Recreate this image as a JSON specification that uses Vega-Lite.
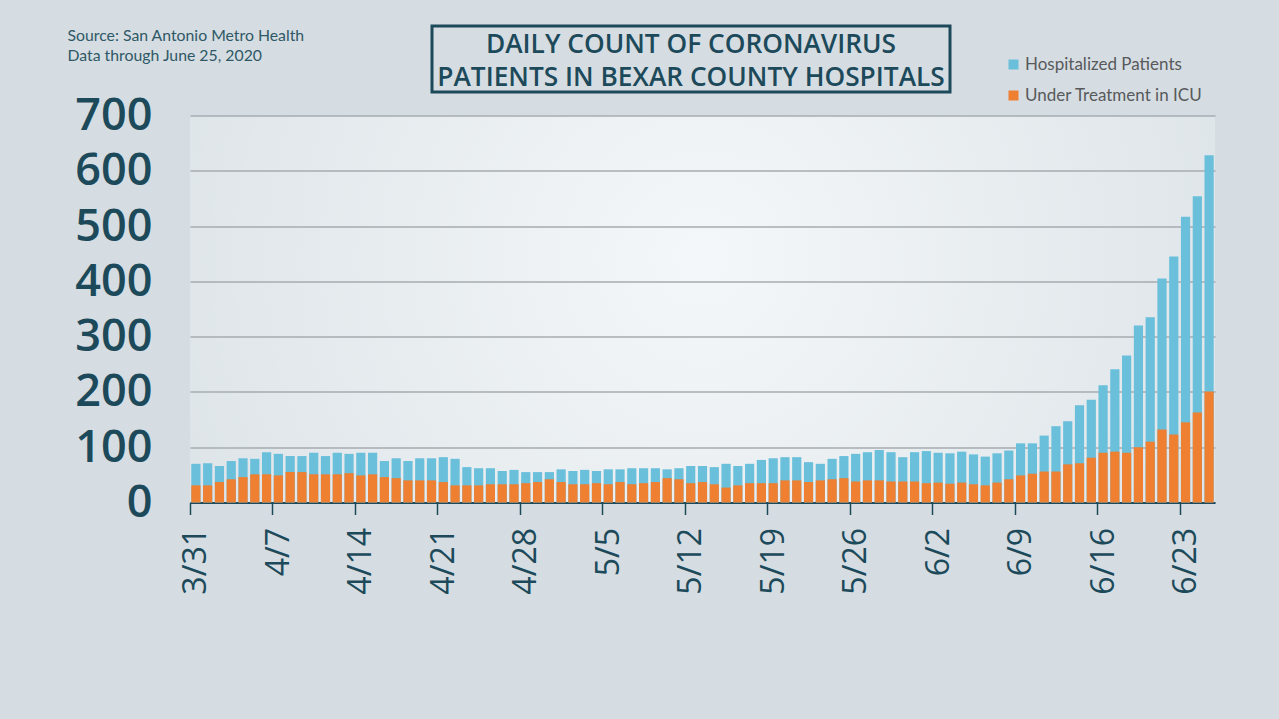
{
  "$schema": "https://vega.github.io/schema/vega-lite/v6.json",
  "background": "#d5dde2",
  "padding": {"left": 67, "top": 24, "right": 64, "bottom": 126},
  "bounds": "flush",
  "spacing": 89.5,
  "config": {
    "view": {"stroke": null},
    "concat": {"spacing": 0}
  },
  "vconcat": [
    {
      "bounds": "flush",
      "spacing": 0,
      "hconcat": [
        {
          "width": 241.5,
          "height": 66,
          "data": {"values": []},
          "mark": "rect"
        },
        {
          "width": 518,
          "height": 66,
          "view": {"stroke": "#1d4a5a", "strokeWidth": 3, "fill": null},
          "data": {
            "values": [
              {"line": 1, "text": "DAILY COUNT OF CORONAVIRUS"},
              {"line": 2, "text": "PATIENTS IN BEXAR COUNTY HOSPITALS"}
            ]
          },
          "mark": {
            "type": "text",
            "font": "Open Sans",
            "fontSize": 26.3,
            "fontWeight": 600,
            "color": "#1d4a5a",
            "align": "center",
            "baseline": "middle",
            "dy": 2
          },
          "encoding": {
            "y": {"field": "line", "type": "ordinal", "axis": null},
            "text": {"field": "text"}
          }
        }
      ]
    },
    {
      "width": 1025,
      "height": 387,
      "view": {
        "stroke": null,
        "fill": {
          "gradient": "radial",
          "x1": 0.5, "y1": 0.45, "r1": 0,
          "x2": 0.5, "y2": 0.45, "r2": 0.75,
          "stops": [
            {"offset": 0, "color": "#f4f7f9"},
            {"offset": 1, "color": "#d5dde2"}
          ]
        }
      },
      "data": {
        "values": [
          {"date": "3/31", "hosp": 70, "icu": 31},
          {"date": "4/1", "hosp": 71, "icu": 31},
          {"date": "4/2", "hosp": 66, "icu": 37},
          {"date": "4/3", "hosp": 75, "icu": 42},
          {"date": "4/4", "hosp": 80, "icu": 46},
          {"date": "4/5", "hosp": 79, "icu": 51},
          {"date": "4/6", "hosp": 91, "icu": 51},
          {"date": "4/7", "hosp": 88, "icu": 49},
          {"date": "4/8", "hosp": 84, "icu": 55},
          {"date": "4/9", "hosp": 84, "icu": 55},
          {"date": "4/10", "hosp": 90, "icu": 51},
          {"date": "4/11", "hosp": 84, "icu": 51},
          {"date": "4/12", "hosp": 90, "icu": 51},
          {"date": "4/13", "hosp": 88, "icu": 53},
          {"date": "4/14", "hosp": 90, "icu": 49},
          {"date": "4/15", "hosp": 90, "icu": 51},
          {"date": "4/16", "hosp": 75, "icu": 46},
          {"date": "4/17", "hosp": 80, "icu": 44},
          {"date": "4/18", "hosp": 75, "icu": 40},
          {"date": "4/19", "hosp": 80, "icu": 40},
          {"date": "4/20", "hosp": 80, "icu": 40},
          {"date": "4/21", "hosp": 82, "icu": 37},
          {"date": "4/22", "hosp": 79, "icu": 31},
          {"date": "4/23", "hosp": 64, "icu": 31},
          {"date": "4/24", "hosp": 62, "icu": 31},
          {"date": "4/25", "hosp": 62, "icu": 33},
          {"date": "4/26", "hosp": 57, "icu": 33},
          {"date": "4/27", "hosp": 59, "icu": 33},
          {"date": "4/28", "hosp": 55, "icu": 35},
          {"date": "4/29", "hosp": 55, "icu": 37},
          {"date": "4/30", "hosp": 55, "icu": 42},
          {"date": "5/1", "hosp": 60, "icu": 37},
          {"date": "5/2", "hosp": 57, "icu": 33},
          {"date": "5/3", "hosp": 59, "icu": 33},
          {"date": "5/4", "hosp": 57, "icu": 35},
          {"date": "5/5", "hosp": 60, "icu": 33},
          {"date": "5/6", "hosp": 60, "icu": 37},
          {"date": "5/7", "hosp": 62, "icu": 33},
          {"date": "5/8", "hosp": 62, "icu": 35},
          {"date": "5/9", "hosp": 62, "icu": 37},
          {"date": "5/10", "hosp": 60, "icu": 44},
          {"date": "5/11", "hosp": 62, "icu": 42},
          {"date": "5/12", "hosp": 66, "icu": 35},
          {"date": "5/13", "hosp": 66, "icu": 37},
          {"date": "5/14", "hosp": 64, "icu": 33},
          {"date": "5/15", "hosp": 70, "icu": 27},
          {"date": "5/16", "hosp": 66, "icu": 31},
          {"date": "5/17", "hosp": 70, "icu": 35},
          {"date": "5/18", "hosp": 77, "icu": 35},
          {"date": "5/19", "hosp": 80, "icu": 35},
          {"date": "5/20", "hosp": 82, "icu": 40},
          {"date": "5/21", "hosp": 82, "icu": 40},
          {"date": "5/22", "hosp": 73, "icu": 37},
          {"date": "5/23", "hosp": 70, "icu": 40},
          {"date": "5/24", "hosp": 79, "icu": 42},
          {"date": "5/25", "hosp": 84, "icu": 44},
          {"date": "5/26", "hosp": 88, "icu": 38},
          {"date": "5/27", "hosp": 91, "icu": 40},
          {"date": "5/28", "hosp": 95, "icu": 40},
          {"date": "5/29", "hosp": 91, "icu": 38},
          {"date": "5/30", "hosp": 82, "icu": 38},
          {"date": "5/31", "hosp": 91, "icu": 38},
          {"date": "6/1", "hosp": 93, "icu": 35},
          {"date": "6/2", "hosp": 90, "icu": 36},
          {"date": "6/3", "hosp": 89, "icu": 34},
          {"date": "6/4", "hosp": 92, "icu": 36},
          {"date": "6/5", "hosp": 87, "icu": 33},
          {"date": "6/6", "hosp": 83, "icu": 31},
          {"date": "6/7", "hosp": 89, "icu": 36},
          {"date": "6/8", "hosp": 94, "icu": 42},
          {"date": "6/9", "hosp": 107, "icu": 49},
          {"date": "6/10", "hosp": 107, "icu": 52},
          {"date": "6/11", "hosp": 121, "icu": 56},
          {"date": "6/12", "hosp": 138, "icu": 56},
          {"date": "6/13", "hosp": 147, "icu": 69},
          {"date": "6/14", "hosp": 176, "icu": 71},
          {"date": "6/15", "hosp": 186, "icu": 81},
          {"date": "6/16", "hosp": 212, "icu": 90},
          {"date": "6/17", "hosp": 241, "icu": 92},
          {"date": "6/18", "hosp": 266, "icu": 90},
          {"date": "6/19", "hosp": 320, "icu": 100},
          {"date": "6/20", "hosp": 335, "icu": 110},
          {"date": "6/21", "hosp": 405, "icu": 132},
          {"date": "6/22", "hosp": 445, "icu": 123},
          {"date": "6/23", "hosp": 517, "icu": 145},
          {"date": "6/24", "hosp": 554, "icu": 163},
          {"date": "6/25", "hosp": 628, "icu": 201}
        ]
      },
      "transform": [{"fold": ["hosp", "icu"], "as": ["series", "count"]}],
      "mark": {"type": "bar"},
      "encoding": {
        "x": {
          "field": "date",
          "type": "ordinal",
          "sort": null,
          "scale": {"paddingInner": 0.22, "paddingOuter": 0.11},
          "axis": {
            "title": null,
            "values": ["3/31", "4/7", "4/14", "4/21", "4/28", "5/5", "5/12", "5/19", "5/26", "6/2", "6/9", "6/16", "6/23"],
            "tickOffset": -5.89,
            "labelOffset": 5.89,
            "labelAngle": 270,
            "labelFont": "Open Sans",
            "labelFontSize": 32,
            "labelColor": "#1d4a5a",
            "labelPadding": 13,
            "tickSize": 12,
            "tickWidth": 1.5,
            "tickColor": "#1d4a5a",
            "domainColor": "#1d4a5a",
            "domainWidth": 2,
            "grid": false
          }
        },
        "y": {
          "field": "count",
          "type": "quantitative",
          "stack": null,
          "scale": {"domain": [0, 700], "nice": false},
          "axis": {
            "title": ["Source: San Antonio Metro Health", "Data through June 25, 2020"],
            "titleAngle": 0,
            "titleAlign": "left",
            "titleBaseline": "alphabetic",
            "titleX": -123,
            "titleY": -75,
            "titleFont": "Lato",
            "titleFontSize": 15.8,
            "titleFontWeight": "normal",
            "titleColor": "#2f5866",
            "titleLineHeight": 20,
            "values": [0, 100, 200, 300, 400, 500, 600, 700],
            "labelFont": "Open Sans",
            "labelFontSize": 45,
            "labelFontWeight": 600,
            "labelColor": "#1d4a5a",
            "labelPadding": 38,
            "labelFlush": false,
            "labelOverlap": false,
            "ticks": false,
            "domain": false,
            "grid": true,
            "gridColor": "#a6abaf",
            "gridWidth": 1.5
          }
        },
        "color": {
          "field": "series",
          "type": "nominal",
          "scale": {"domain": ["hosp", "icu"], "range": ["#6abfdb", "#ef7f31"]},
          "legend": {
            "title": null,
            "orient": "none",
            "legendX": 815,
            "legendY": 30,
            "padding": 0,
            "labelExpr": "datum.label == 'hosp' ? 'Hospitalized Patients' : 'Under Treatment in ICU'",
            "symbolType": "square",
            "symbolSize": 100,
            "symbolStrokeWidth": 0,
            "labelFont": "Lato",
            "labelFontSize": 17,
            "labelLimit": 300,
            "labelColor": "#58595b",
            "labelOffset": 3,
            "rowPadding": 13
          }
        }
      }
    }
  ]
}
